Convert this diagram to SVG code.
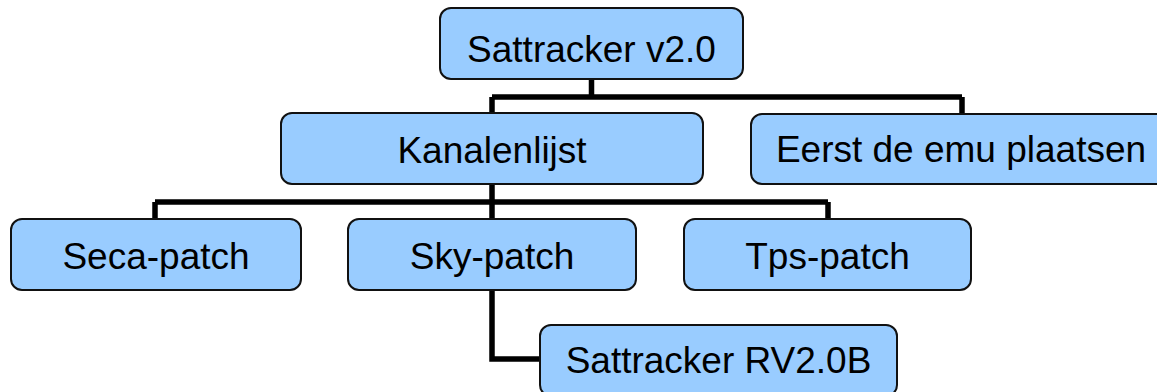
<svg xmlns="http://www.w3.org/2000/svg" width="1157" height="392" viewBox="0 0 1157 392">
<style>
.box{fill:#99CCFF;stroke:#111;stroke-width:2}
.lbl{font-family:"Liberation Sans",Arial,sans-serif;font-size:37px;fill:#000;text-anchor:middle}
.conn{fill:none;stroke:#000;stroke-width:5.5;stroke-linejoin:miter}
</style>
<rect width="1157" height="392" fill="#fff"/>
<g id="connectors">
<path class="conn" d="M591.5 79 V97 M492 97 H962 M492 97 V113 M962 97 V114"/>
<path class="conn" d="M492 184 V202 M155 202 H828 M155 202 V219 M492 202 V219 M828 202 V219"/>
<path class="conn" d="M492 290 V359 H540"/>
</g>
<g id="n-sattracker">
<rect class="box" x="440" y="8" width="303" height="71" rx="11"/>
<text class="lbl" x="591.5" y="62">Sattracker v2.0</text>
</g>
<g id="n-kanalenlijst">
<rect class="box" x="281" y="113" width="422" height="71" rx="11"/>
<text class="lbl" x="492" y="163">Kanalenlijst</text>
</g>
<g id="n-eerst">
<rect class="box" x="751" y="114" width="422" height="70" rx="11"/>
<text class="lbl" x="961" y="162">Eerst de emu plaatsen</text>
</g>
<g id="n-seca">
<rect class="box" x="11" y="219" width="290" height="71" rx="11"/>
<text class="lbl" x="156" y="269">Seca-patch</text>
</g>
<g id="n-sky">
<rect class="box" x="348" y="219" width="288" height="71" rx="11"/>
<text class="lbl" x="492" y="269">Sky-patch</text>
</g>
<g id="n-tps">
<rect class="box" x="684" y="219" width="287" height="71" rx="11"/>
<text class="lbl" x="827.5" y="269">Tps-patch</text>
</g>
<g id="n-rv">
<rect class="box" x="540" y="325" width="357" height="71" rx="11"/>
<text class="lbl" x="718.5" y="373">Sattracker RV2.0B</text>
</g>
</svg>
